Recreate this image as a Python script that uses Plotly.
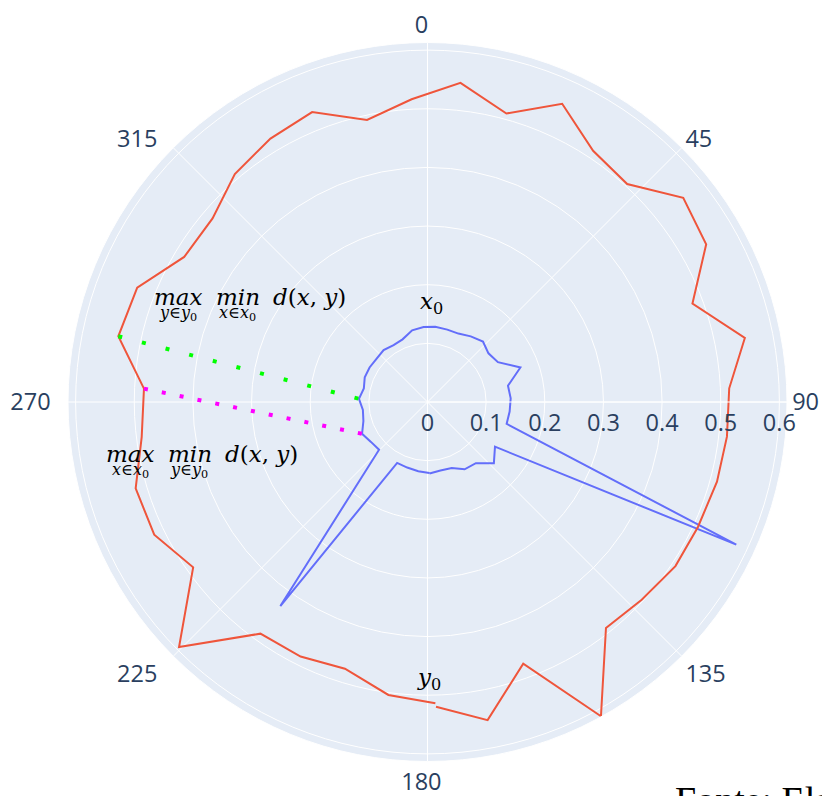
import plotly.graph_objects as go

# Sample angles (degrees, clockwise from north) shared by both contours
theta_deg = [178.5, 187.6, 197.2, 206.5, 215.8, 225.4, 234.8, 244.1, 253.5, 263.0,
             272.7, 282.0, 291.5, 300.8, 310.5, 319.8, 329.2, 338.3, 347.9, 357.0,
             5.9, 15.3, 24.3, 33.4, 42.5, 51.4, 60.5, 69.6, 78.6, 87.4,
             96.6, 105.4, 114.8, 123.5, 132.7, 141.7, 151.1, 159.9, 169.3, 178.4]

# Inner contour x0
r_x0 = [0.121, 0.119, 0.117, 0.116, 0.429, 0.116, 0.118, 0.124, 0.114, 0.111,
        0.117, 0.111, 0.115, 0.115, 0.114, 0.116, 0.113, 0.115, 0.125, 0.128,
        0.129, 0.128, 0.128, 0.134, 0.140, 0.133, 0.138, 0.169, 0.140, 0.142,
        0.141, 0.140, 0.580, 0.138, 0.154, 0.133, 0.131, 0.120, 0.119, 0.122]

# Outer contour y0
r_y0 = [0.514, 0.504, 0.476, 0.485, 0.487, 0.595, 0.489, 0.518, 0.519, 0.491,
        0.484, 0.539, 0.532, 0.483, 0.482, 0.509, 0.523, 0.532, 0.492, 0.517,
        0.547, 0.510, 0.558, 0.513, 0.504, 0.558, 0.546, 0.482, 0.552, 0.515,
        0.514, 0.512, 0.508, 0.507, 0.497, 0.491, 0.612, 0.475, 0.552, 0.520]

# Index pairs (y0 point, x0 point) joined by the two Hausdorff segments
sup_y_inf_x = (11, 10)
sup_x_inf_y = (10, 7)

# Axis ticks
angle_ticks = [0, 45, 90, 135, 180, 225, 270, 315]
angle_labels = ["0", "45", "90", "135", "180", "225", "270", "315"]
r_range = [0, 0.613]

W, H = 822, 796
M = dict(l=68, r=35, t=42, b=34)


def paper(x, y):
    """Pixel position on the page -> paper coordinates."""
    return ((x - M["l"]) / (W - M["l"] - M["r"]),
            (H - M["b"] - y) / (H - M["t"] - M["b"]))


fig = go.Figure()

fig.add_trace(go.Scatterpolar(
    r=r_x0, theta=theta_deg, mode="lines", name="x0",
    line=dict(color="#636EFA", width=2)))

fig.add_trace(go.Scatterpolar(
    r=r_y0, theta=theta_deg, mode="lines", name="y0",
    line=dict(color="#EF553B", width=2)))

iy, ix = sup_y_inf_x
fig.add_trace(go.Scatterpolar(
    r=[r_y0[iy], r_x0[ix]], theta=[theta_deg[iy], theta_deg[ix]],
    mode="lines", line=dict(color="#00FF00", width=4, dash="4px,20.4px")))

iy, ix = sup_x_inf_y
fig.add_trace(go.Scatterpolar(
    r=[r_y0[iy], r_x0[ix]], theta=[theta_deg[iy], theta_deg[ix]],
    mode="lines", line=dict(color="#FF00FF", width=4, dash="4px,14.2px")))

MATH = "DejaVu Serif"
ROMAN = "Liberation Serif"
# (ascent - descent) / 2, in em, to go from baseline to the text box centre
MID = {MATH: 0.346, ROMAN: 0.3375}


def label(text, x, baseline, size, anchor="center", family=MATH):
    # place a text label by its horizontal anchor and its baseline (pixels)
    cy = baseline - MID[family] * size
    px, py = paper(x, cy)
    fig.add_annotation(
        x=px, y=py, xref="paper", yref="paper", text=text, showarrow=False,
        xanchor=anchor, yanchor="middle",
        font=dict(family=family, size=size, color="black"))


MAIN = 23
SUB = 16
# max_{y in y0} min_{x in x0} d(x,y)
label("<i>max</i>", 178, 304.5, MAIN)
label("<i>min</i>", 238, 304.5, MAIN)
label("<i>d</i>(<i>x</i>, <i>y</i>)", 309, 304.5, MAIN)
label("<i>y</i>∈<i>y</i><sub>0</sub>", 177.5, 319.5, SUB)
label("<i>x</i>∈<i>x</i><sub>0</sub>", 237, 319.5, SUB)
# max_{x in x0} min_{y in y0} d(x,y)
label("<i>max</i>", 130, 461.7, MAIN)
label("<i>min</i>", 190, 461.7, MAIN)
label("<i>d</i>(<i>x</i>, <i>y</i>)", 261, 461.7, MAIN)
label("<i>x</i>∈<i>x</i><sub>0</sub>", 130, 476.5, SUB)
label("<i>y</i>∈<i>y</i><sub>0</sub>", 189, 476.5, SUB)
# contour names
label("<i>x</i><sub>0</sub>", 432, 311, MAIN)
label("<i>y</i><sub>0</sub>", 429, 687, MAIN)
# source note
label("Fonte: Elaborado pelo autor", 673, 813, 38, anchor="left", family=ROMAN)

# angular labels carry a little trailing room after the number
pad = "\u00a0\u00a0"

fig.update_layout(
    width=W, height=H,
    margin=dict(l=M["l"], r=M["r"], t=M["t"], b=M["b"], autoexpand=False),
    showlegend=False,
    font=dict(size=23.5),
    template="plotly",
    polar=dict(
        angularaxis=dict(rotation=90, direction="clockwise",
                         tickmode="array", tickvals=angle_ticks,
                         ticktext=[t + pad for t in angle_labels]),
        radialaxis=dict(range=r_range),
    ),
)

fig.write_html("out.html")
